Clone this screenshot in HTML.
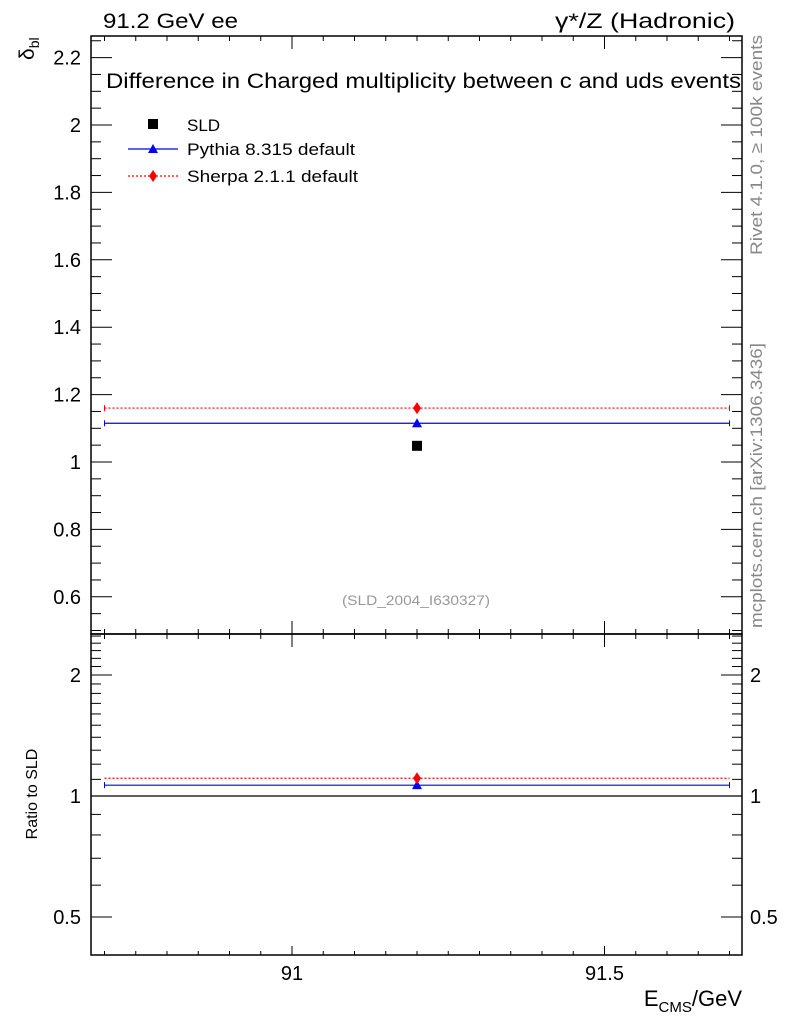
<!DOCTYPE html>
<html><head><meta charset="utf-8"><style>
body{margin:0;background:#fff;}
svg{display:block;font-family:"Liberation Sans",sans-serif;}
</style></head><body>
<svg id="c" width="786" height="1024" viewBox="0 0 786 1024"></svg>
<script>
const categories=[91.2];
const binLo=[90.7], binHi=[91.7];
const sldValues=[1.048];
const pythiaValues=[1.115];
const sherpaValues=[1.16];
const mainTicks=[0.6,0.8,1,1.2,1.4,1.6,1.8,2,2.2];
const mainTickLabels=["0.6","0.8","1","1.2","1.4","1.6","1.8","2","2.2"];
const ratioTicks=[0.5,1,2];
const ratioTickLabels=["0.5","1","2"];
const xTicks=[91,91.5];
const xTickLabels=["91","91.5"];

const NS="http://www.w3.org/2000/svg", svg=document.getElementById('c');
const L=91,R=742,T=36,M=634,B=955;
const X=v=>292+(v-91)*625;
const Y=v=>462-(v-1)*337;
const YR=v=>796-121*Math.log2(v);
function el(t,a,txt){const e=document.createElementNS(NS,t);for(const k in a)e.setAttribute(k,a[k]);if(txt!=null)e.textContent=txt;svg.appendChild(e);return e;}
function ln(x1,y1,x2,y2,s,w,d){return el('line',{x1,y1,x2,y2,stroke:s||'#000','stroke-width':w||1,'stroke-dasharray':d||'none'});}

let f=el('rect',{x:L,y:T,width:R-L,height:M-T,fill:'none',stroke:'#000','stroke-width':1.5});

f=el('rect',{x:L,y:M,width:R-L,height:B-M,fill:'none',stroke:'#000','stroke-width':1.5});


for(let v=0.5;v<=2.3;v+=0.05){const y=Y(v);if(y<T+1||y>M-1)continue;const major=Math.abs(v*5-Math.round(v*5))<1e-6;const len=major?21:10;ln(L,y,L+len,y);ln(R,y,R-len,y);}
mainTicks.forEach((v,i)=>{const t=el('text',{x:L-10,y:Y(v)+7,'text-anchor':'end','font-size':20},mainTickLabels[i]);});
for(let k=4;k<=25;k++){const v=k/10;const y=YR(v);if(y<M+1||y>B-1)continue;const major=ratioTicks.some(r=>Math.abs(r-v)<1e-6);const len=major?21:10;ln(L,y,L+len,y);ln(R,y,R-len,y);}
ratioTicks.forEach((v,i)=>{let t=el('text',{x:L-10,y:YR(v)+7,'text-anchor':'end','font-size':20},ratioTickLabels[i]);
t=el('text',{x:R+8,y:YR(v)+7,'text-anchor':'start','font-size':20},ratioTickLabels[i]);});
for(let k=0;k<=25;k++){const v=90.7+k*0.05;const x=X(v);if(x<L+1||x>R-1)continue;const major=Math.abs(v*2-Math.round(v*2))<1e-6;
 const len=major?13:5;ln(x,T,x,T+len);ln(x,M,x,M-len);ln(x,M,x,M+len);ln(x,B,x,B-(major?9:4));}
xTicks.forEach((v,i)=>{const t=el('text',{x:X(v),y:980,'text-anchor':'middle','font-size':20},xTickLabels[i]);});

categories.forEach((c,i)=>{
 let s=ln(X(binLo[i]),Y(sherpaValues[i]),X(binHi[i]),Y(sherpaValues[i]),'#f00',1.2,'2,2');
 ln(X(binLo[i]),Y(sherpaValues[i])-3,X(binLo[i]),Y(sherpaValues[i])+3,'#f00');ln(X(binHi[i]),Y(sherpaValues[i])-3,X(binHi[i]),Y(sherpaValues[i])+3,'#f00');
 let p=ln(X(binLo[i]),Y(pythiaValues[i]),X(binHi[i]),Y(pythiaValues[i]),'#00f',1.2);
 ln(X(binLo[i]),Y(pythiaValues[i])-3,X(binLo[i]),Y(pythiaValues[i])+3,'#00f');ln(X(binHi[i]),Y(pythiaValues[i])-3,X(binHi[i]),Y(pythiaValues[i])+3,'#00f');
 const x=X(c);
 let m=el('rect',{x:x-5,y:Y(sldValues[i])-5,width:10,height:10,fill:'#000'});
 let y=Y(pythiaValues[i]);m=el('polygon',{points:`${x},${y-5} ${x-5},${y+4} ${x+5},${y+4}`,fill:'#00f'});
 y=Y(sherpaValues[i]);m=el('polygon',{points:`${x},${y-6} ${x-4},${y} ${x},${y+6} ${x+4},${y}`,fill:'#f00'});
 const rs=sherpaValues[i]/sldValues[i], rp=pythiaValues[i]/sldValues[i];
 ln(L,YR(1),R,YR(1),'#000',1.2);
 s=ln(X(binLo[i]),YR(rs),X(binHi[i]),YR(rs),'#f00',1.2,'2,2');
 p=ln(X(binLo[i]),YR(rp),X(binHi[i]),YR(rp),'#00f',1.2);
 ln(X(binLo[i]),YR(rp)-3,X(binLo[i]),YR(rp)+3,'#00f');ln(X(binHi[i]),YR(rp)-3,X(binHi[i]),YR(rp)+3,'#00f');
 y=YR(rp);m=el('polygon',{points:`${x},${y-5} ${x-5},${y+4} ${x+5},${y+4}`,fill:'#00f'});
 y=YR(rs);m=el('polygon',{points:`${x},${y-6} ${x-4},${y} ${x},${y+6} ${x+4},${y}`,fill:'#f00'});
});

let g;
g=el('rect',{x:148,y:119,width:10,height:10,fill:'#000'});
g=el('text',{x:187,y:131,'font-size':17},'SLD');
ln(128,149,178,149,'#00f',1.2);el('polygon',{points:'153,144 148,153 158,153',fill:'#00f'});
g=el('text',{x:187,y:155,'font-size':17,textLength:168,lengthAdjust:'spacingAndGlyphs'},'Pythia 8.315 default');
ln(128,176,178,176,'#f00',1.2,'2,2');el('polygon',{points:'153,170 149,176 153,182 157,176',fill:'#f00'});
g=el('text',{x:187,y:182,'font-size':17,textLength:171,lengthAdjust:'spacingAndGlyphs'},'Sherpa 2.1.1 default');

g=el('text',{x:103,y:28,'font-size':21,textLength:135,lengthAdjust:'spacingAndGlyphs'},'91.2 GeV ee');
g=el('text',{x:555,y:28,'font-size':21,textLength:180,lengthAdjust:'spacingAndGlyphs'},'γ*/Z (Hadronic)');
g=el('text',{x:106,y:88,'font-size':21,textLength:635,lengthAdjust:'spacingAndGlyphs'},'Difference in Charged multiplicity between c and uds events');
g=el('text',{x:416,y:605,'font-size':14,fill:'#999','text-anchor':'middle',textLength:148,lengthAdjust:'spacingAndGlyphs'},'(SLD_2004_I630327)');
g=el('text',{x:0,y:0,'font-size':21,transform:'translate(34,60) rotate(-90)'},'');g.innerHTML='δ<tspan font-size="14" dy="5">bl</tspan>';
g=el('text',{x:0,y:0,'font-size':16,'text-anchor':'middle',transform:'translate(37,794) rotate(-90)'},'Ratio to SLD');
g=el('text',{x:742,y:1006,'font-size':22,'text-anchor':'end'},'');g.innerHTML='E<tspan font-size="15" dy="6">CMS</tspan><tspan dy="-6">/GeV</tspan>';
g=el('text',{x:0,y:0,'font-size':17,fill:'#888','text-anchor':'end',transform:'translate(762,35) rotate(-90)',textLength:220,lengthAdjust:'spacingAndGlyphs'},'Rivet 4.1.0, ≥ 100k events');
g=el('text',{x:0,y:0,'font-size':17,fill:'#888','text-anchor':'end',transform:'translate(762,343) rotate(-90)',textLength:285,lengthAdjust:'spacingAndGlyphs'},'mcplots.cern.ch [arXiv:1306.3436]');
</script>
</body></html>
